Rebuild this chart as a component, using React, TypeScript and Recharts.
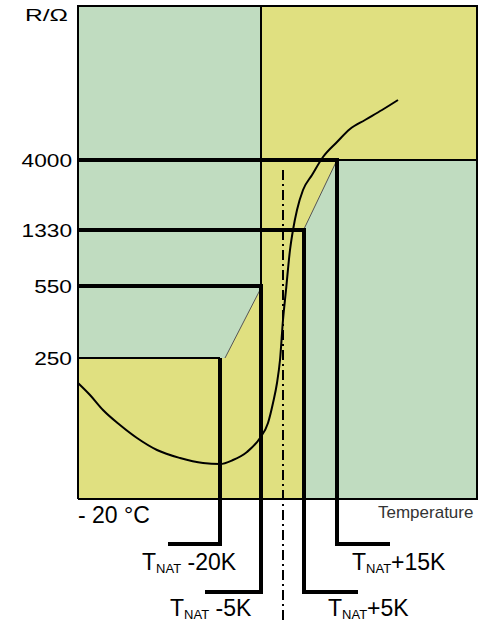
import { ComposedChart, Area, Line, Scatter, XAxis, YAxis } from "recharts";

const FONT = "'Liberation Sans', Arial, sans-serif";
const GREEN = "#C0DCC0";
const YELLOW = "#E0E080";

// resistance ticks (label, position on the schematic R scale)
const rTickLabels = ["250", "550", "1330", "4000"];
const rTickPos = [141, 213, 269, 339];

// T_NAT switching points
const tnatNames = [" -20K", " -5K", "+5K", "+15K"];
const tnatT = [143, 184, 227, 260];
const tnatFootR = [-45, -93, -93, -45];
const tnatFootEndT = [91, 128, 281, 313];
const tnatLabelT = [65, 93, 251, 275];
const tnatLabelR = [-71, -117, -117, -71];
const tnatMidT = 206;

// frame of the plot
const frameT = [1, 1, 400, 400, 1];
const frameR = [0, 493, 493, 0, 0];

// yellow tolerance band (lower / upper edge)
const bandT = [1, 148, 184, 184, 227, 227, 260, 400];
const bandLo = [0, 0, 0, 0, 0, 270, 339, 339];
const bandHi = [141, 141, 211, 493, 493, 493, 493, 493];

// characteristic curve
const curveT = [1, 13, 26, 43, 60, 80, 103, 126, 143, 156, 170, 183, 191, 196, 200, 203, 206, 209, 213, 216, 220, 226, 235, 246, 260, 273, 288, 305, 321];
const curveR = [116, 104, 89, 74, 61, 49, 41, 36, 35, 39, 47, 61, 76, 96, 116, 139, 179, 209, 249, 269, 289, 309, 324, 342, 357, 370, 379, 389, 399];

const pts = (t: number[], r: number[]) => t.map((x, i) => ({ t: x, r: r[i] }));

const greenData = [
  { t: 1, band: [0, 493] },
  { t: 400, band: [0, 493] },
];
const yellowData = bandT.map((t, i) => ({ t, band: [bandLo[i], bandHi[i]] }));

const thinLines = [
  pts(frameT, frameR),
  pts([1, tnatT[0]], [rTickPos[0], rTickPos[0]]),
  pts([tnatT[1], tnatT[1]], [493, rTickPos[1]]),
  pts([tnatT[3], 400], [rTickPos[3], rTickPos[3]]),
];
const edgeLines = [
  pts([148, 184], [141, 211]),
  pts([227, 260], [270, 339]),
];
const thickLines = tnatT.map((x, i) =>
  pts(
    [i === 0 ? x : 1, x, x, tnatFootEndT[i]],
    [rTickPos[i], rTickPos[i], tnatFootR[i], tnatFootR[i]]
  )
);

const notes = [
  ...tnatNames.map((k, i) => ({ t: tnatLabelT[i], r: tnatLabelR[i], k, kind: "tnat" })),
  { t: 1, r: -24, k: "- 20 °C", kind: "big" },
  { t: 301, r: -19, k: "Temperature", kind: "small" },
];

const RTick = (p: any) => {
  const i = rTickPos.indexOf(p.payload.value);
  const s = rTickLabels[i] ?? "";
  const w = 12.6 * s.length;
  return (
    <text x={p.x - w} y={p.y} dy={6.5} fontSize={18} fontFamily={FONT} fill="#000" textLength={w} lengthAdjust="spacingAndGlyphs">
      {s}
    </text>
  );
};

const Note = (p: any) => {
  const { cx, cy, payload } = p;
  if (payload.kind === "tnat") {
    return (
      <text x={cx} y={cy} fontSize={23} fontFamily={FONT} fill="#000">
        T
        <tspan fontSize={13} dy={3}>NAT</tspan>
        <tspan fontSize={23} dy={-3}>{payload.k}</tspan>
      </text>
    );
  }
  if (payload.kind === "big") {
    return (
      <text x={cx} y={cy} fontSize={23} fontFamily={FONT} fill="#000">
        {payload.k}
      </text>
    );
  }
  return (
    <text x={cx} y={cy} fontSize={17} fontFamily={FONT} fill="#333">
      {payload.k}
    </text>
  );
};

export default function App() {
  return (
    <div style={{ position: "absolute", left: 0, top: 0, background: "#fff" }}>
      <ComposedChart width={483} height={623} margin={{ top: 0, right: 5, bottom: 0, left: 0 }}>
        <XAxis dataKey="t" type="number" domain={[0, 401]} allowDataOverflow hide />
        <YAxis
          dataKey="r"
          type="number"
          domain={[-124, 499]}
          allowDataOverflow
          width={77}
          ticks={rTickPos}
          interval={0}
          axisLine={false}
          tickLine={false}
          tickSize={0}
          tickMargin={5}
          tick={RTick}
          label={{
            content: () => (
              <text x={25} y={20.5} fontSize={17} fontFamily={FONT} fill="#000" textLength={43} lengthAdjust="spacingAndGlyphs">
                R/Ω
              </text>
            ),
          }}
        />
        <Area data={greenData} dataKey="band" type="linear" fill={GREEN} fillOpacity={1} stroke="none" isAnimationActive={false} />
        <Area data={yellowData} dataKey="band" type="linear" fill={YELLOW} fillOpacity={1} stroke="none" isAnimationActive={false} />
        {edgeLines.map((d, i) => (
          <Line key={"e" + i} data={d} dataKey="r" type="linear" stroke="#555" strokeWidth={1} dot={false} isAnimationActive={false} />
        ))}
        {thinLines.map((d, i) => (
          <Line key={"n" + i} data={d} dataKey="r" type="linear" stroke="#000" strokeWidth={2} dot={false} isAnimationActive={false} />
        ))}
        <Line
          data={pts([tnatMidT, tnatMidT], [329, -124])}
          dataKey="r"
          type="linear"
          stroke="#000"
          strokeWidth={2}
          strokeDasharray="10 4 2 4"
          dot={false}
          isAnimationActive={false}
        />
        {thickLines.map((d, i) => (
          <Line key={"k" + i} data={d} dataKey="r" type="linear" stroke="#000" strokeWidth={4} strokeLinejoin="miter" dot={false} isAnimationActive={false} />
        ))}
        <Line data={pts(curveT, curveR)} dataKey="r" type="monotone" stroke="#000" strokeWidth={2} dot={false} isAnimationActive={false} />
        <Scatter data={notes} shape={Note} isAnimationActive={false} />
      </ComposedChart>
    </div>
  );
}
